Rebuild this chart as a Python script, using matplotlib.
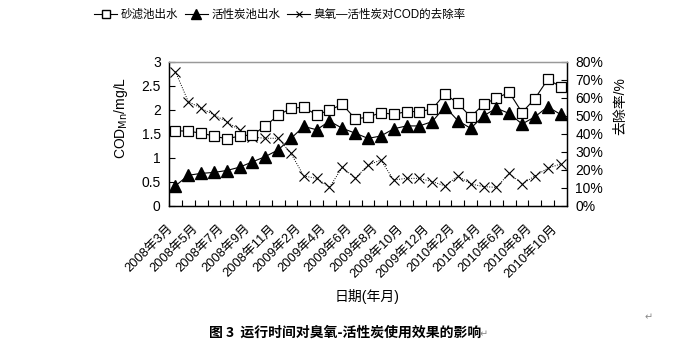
import numpy as np
import matplotlib
matplotlib.use("Agg")
import matplotlib.pyplot as plt
import matplotlib.transforms as mtransforms
from matplotlib.lines import Line2D

plt.rcParams['font.family'] = ['Liberation Sans', 'Noto Sans CJK SC', 'DejaVu Sans']

# 月份（31个采样点）
months = ['2008年3月', '2008年4月', '2008年5月', '2008年6月', '2008年7月', '2008年8月',
          '2008年9月', '2008年10月', '2008年11月', '2008年12月', '2009年2月', '2009年3月',
          '2009年4月', '2009年5月', '2009年6月', '2009年7月', '2009年8月', '2009年9月',
          '2009年10月', '2009年11月', '2009年12月', '2010年1月', '2010年2月', '2010年3月',
          '2010年4月', '2010年5月', '2010年6月', '2010年7月', '2010年8月', '2010年9月',
          '2010年10月']

# 砂滤池出水 COD_Mn (mg/L)
sand = [1.56, 1.55, 1.51, 1.45, 1.39, 1.45, 1.47, 1.66, 1.88, 2.03, 2.05, 1.89,
        1.99, 2.11, 1.81, 1.84, 1.94, 1.90, 1.96, 1.96, 2.01, 2.33, 2.13, 1.85,
        2.11, 2.24, 2.36, 1.94, 2.23, 2.63, 2.48]

# 活性炭池出水 COD_Mn (mg/L)
carbon = [0.41, 0.63, 0.67, 0.69, 0.73, 0.80, 0.91, 1.02, 1.16, 1.40, 1.65, 1.58,
          1.76, 1.61, 1.51, 1.40, 1.45, 1.60, 1.66, 1.66, 1.75, 2.06, 1.77, 1.61,
          1.87, 2.03, 1.92, 1.70, 1.85, 2.06, 1.90]

# 臭氧-活性炭对COD的去除率 (%)
removal = [74.5, 57.8, 54.1, 50.4, 46.6, 42.0, 38.0, 37.4, 37.4, 29.0, 16.4, 15.1,
           10.1, 21.3, 15.1, 22.5, 25.3, 14.2, 15.1, 15.1, 13.3, 10.9, 16.4, 12.0,
           10.5, 10.1, 17.9, 12.0, 16.4, 20.7, 23.1]

x = np.arange(len(months))

fig = plt.figure(figsize=(6.78, 3.48), dpi=100)
ax = fig.add_axes([169 / 678, 1 - 205.5 / 348, 398 / 678, 143.8 / 348])
ax2 = ax.twinx()

ax2.plot(x, removal, color='black', lw=0.7, ls=(0, (1, 1.5)), marker='x',
         ms=7.5, mew=0.8, zorder=2)
ax.plot(x, sand, color='black', lw=0.8, marker='s', ms=7, mfc='white',
        mec='black', mew=0.9, zorder=3)
ax.plot(x, carbon, color='black', lw=0.8, marker='^', ms=8, mfc='black',
        mec='black', zorder=3)
ax.set_zorder(ax2.get_zorder() + 1)
ax.patch.set_visible(False)

ax.set_xlim(-0.5, len(months) - 0.5)
ax.set_ylim(0, 3)
ax.set_yticks(np.arange(0, 3.01, 0.5))
ax.set_yticklabels(['0', '0.5', '1', '1.5', '2', '2.5', '3'])
ax2.set_ylim(0, 80)
ax2.set_yticks(np.arange(0, 81, 10))
ax2.set_yticklabels([f'{v}%' for v in range(0, 81, 10)])

# 类别轴刻度在类别之间，标签每隔一个月
ax.set_xticks(np.arange(-0.5, len(months), 1))
ax.set_xticklabels([])
ax.tick_params(axis='x', direction='in', length=4, width=0.8)
shift = mtransforms.ScaledTranslation(-9 / 100, -17 / 100, fig.dpi_scale_trans)
for xi in x[::2]:
    ax.text(xi, 0, months[xi], transform=ax.get_xaxis_transform() + shift,
            rotation=45, ha='right', va='top', rotation_mode='anchor', fontsize=9.3)
ax.tick_params(axis='y', direction='in', length=4, width=0.8, labelsize=10, pad=6)
ax2.tick_params(axis='y', direction='in', length=4, width=0.8, labelsize=10, pad=6)

for a in (ax, ax2):
    for s in ('left', 'right', 'bottom'):
        a.spines[s].set_color('black')
        a.spines[s].set_linewidth(0.9)
    a.spines['top'].set_color('#999999')
    a.spines['top'].set_linewidth(0.9)

fig.text(121 / 678, 1 - 118 / 348, r'COD$_{\mathrm{Mn}}$/mg/L', rotation=90,
         ha='center', va='center', fontsize=10)
fig.text(620 / 678, 1 - 106 / 348, '去除率/%', rotation=90,
         ha='center', va='center', fontsize=10)
fig.text(367 / 678, 1 - 297 / 348, '日期(年月)', ha='center', va='center', fontsize=10)

handles = [
    Line2D([], [], color='black', lw=0.8, marker='s', ms=6, mfc='white', mec='black'),
    Line2D([], [], color='black', lw=0.8, marker='^', ms=7, mfc='black'),
    Line2D([], [], color='black', lw=0.8, marker='x', ms=5, mew=0.8),
]
labels = ['砂滤池出水', '活性炭池出水', '臭氧—活性炭对COD的去除率']
fig.legend(handles, labels, loc='center', bbox_to_anchor=(280 / 678, 1 - 15 / 348),
           ncol=3, frameon=False, fontsize=8.3, handlelength=2.0, handletextpad=0.3,
           columnspacing=0.6)

fig.text(345 / 678, 1 - 333 / 348, '图 3  运行时间对臭氧-活性炭使用效果的影响',
         ha='center', va='center', fontsize=10, fontweight='bold',
         family=['Noto Sans CJK SC', 'DejaVu Sans'])
fig.text(480 / 678, 1 - 334 / 348, '↵', ha='left', va='center', fontsize=7,
         color='#888888', family=['DejaVu Sans'])
fig.text(645 / 678, 1 - 317 / 348, '↵', ha='left', va='center', fontsize=7,
         color='#888888', family=['DejaVu Sans'])

fig.savefig('out.png', dpi=100)
